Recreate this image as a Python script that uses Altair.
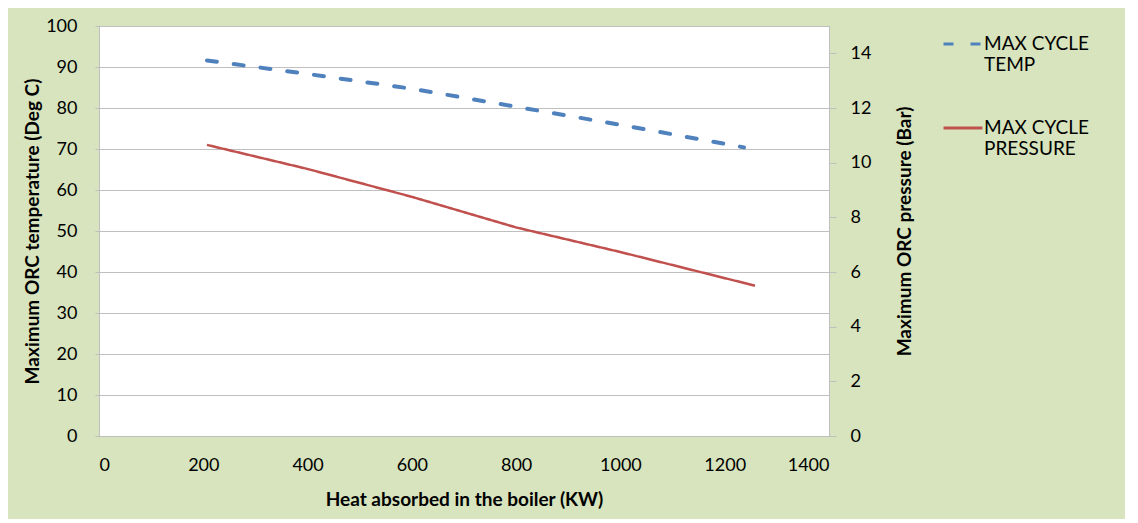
import altair as alt
import pandas as pd

# ---- data ----
heat_temp = [207, 400, 600, 800, 1000, 1237]
temp_degc = [91.6, 88.3, 84.7, 80.3, 75.9, 70.4]

heat_pres = [207, 400, 600, 800, 1000, 1258]
pres_bar = [10.65, 9.77, 8.75, 7.63, 6.73, 5.5]

series_names = ["MAX CYCLE TEMP", "MAX CYCLE PRESSURE"]
series_colors = ["#4F81BD", "#C0504D"]
x_ticks = [0, 200, 400, 600, 800, 1000, 1200, 1400]
temp_ticks = [0, 10, 20, 30, 40, 50, 60, 70, 80, 90, 100]
pres_ticks = [0, 2, 4, 6, 8, 10, 12, 14]

df_t = pd.DataFrame({"heat": heat_temp, "value": temp_degc, "series": series_names[0]})
df_p = pd.DataFrame({"heat": heat_pres, "value": pres_bar, "series": series_names[1]})

FONT = "Lato"
GRID = "#BFBFBF"

legend = alt.Legend(
    title=None,
    orient="none",
    legendX=843,
    legendY=-3,
    symbolType="stroke",
    symbolSize=1521,
    symbolStrokeWidth=3,
    labelFont=FONT,
    labelFontSize=19,
    labelColor="#000000",
    labelBaseline="middle",
    labelOffset=0,
    labelLimit=400,
    rowPadding=32,
    padding=0,
    labelExpr="datum.label == 'MAX CYCLE TEMP' ? ['MAX CYCLE', 'TEMP'] : ['MAX CYCLE', 'PRESSURE']",
)

color = alt.Color("series:N", scale=alt.Scale(domain=series_names, range=series_colors), legend=legend)
dash = alt.StrokeDash("series:N", scale=alt.Scale(domain=series_names, range=[[10, 17], [1, 0]]), legend=legend)

x_enc = alt.X(
    "heat:Q",
    scale=alt.Scale(domain=[0, 1400], nice=False),
    axis=alt.Axis(
        values=x_ticks,
        format="d",
        title="Heat absorbed in the boiler (KW)",
        grid=False,
        ticks=False,
        domainColor=GRID,
        labelPadding=20,
        titlePadding=16,
    ),
)

temp_layer = alt.Chart(df_t).mark_line(strokeWidth=4, strokeCap="round").encode(
    x=x_enc,
    y=alt.Y(
        "value:Q",
        scale=alt.Scale(domain=[0, 100], nice=False),
        axis=alt.Axis(
            values=temp_ticks,
            title="Maximum ORC temperature (Deg C)",
            grid=True,
            gridColor=GRID,
            domainColor=GRID,
            tickColor=GRID,
            tickSize=4,
            labelPadding=18,
            titlePadding=3,
        ),
    ),
    color=color,
    strokeDash=dash,
)

pres_layer = alt.Chart(df_p).mark_line(strokeWidth=2.5).encode(
    x=x_enc,
    y=alt.Y(
        "value:Q",
        scale=alt.Scale(domain=[0, 15], nice=False),
        axis=alt.Axis(
            orient="right",
            values=pres_ticks,
            title="Maximum ORC pressure (Bar)",
            titleAngle=270,
            grid=False,
            domainColor=GRID,
            tickColor=GRID,
            tickSize=7,
            labelPadding=14,
            titlePadding=44,
        ),
    ),
    color=color,
    strokeDash=dash,
)

chart = (
    alt.layer(temp_layer, pres_layer)
    .resolve_scale(y="independent")
    .properties(width=730, height=410, padding={"left": 15, "top": 9, "right": 36, "bottom": 10})
    .configure(background="#D7E4BD")
    .configure_view(fill="white", stroke=GRID, strokeWidth=1)
    .configure_axis(
        labelFont=FONT,
        labelFontSize=18,
        labelColor="#000000",
        titleFont=FONT,
        titleFontSize=19,
        titleFontWeight="bold",
        titleColor="#000000",
    )
)

chart.save("out.html", embed_options={"renderer": "svg", "actions": False})
